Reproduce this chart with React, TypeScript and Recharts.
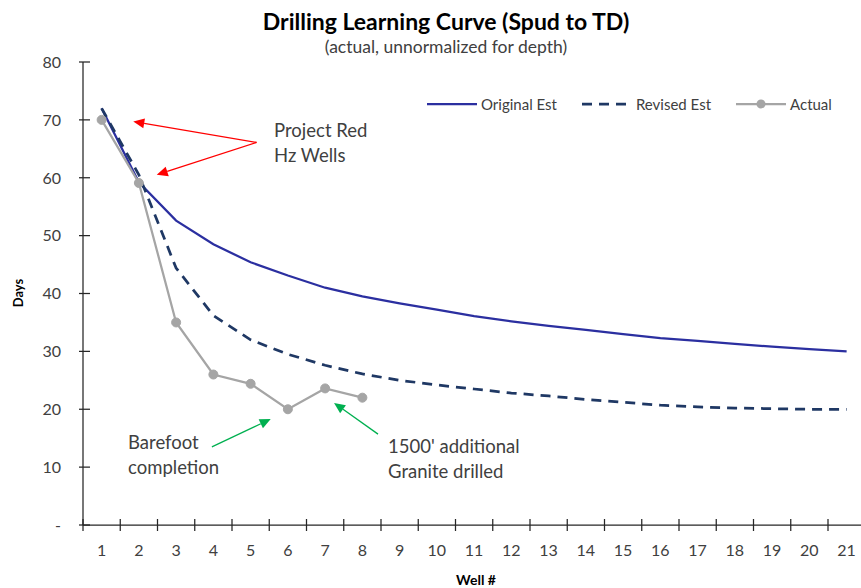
import React from "react";
import {
  Line,
  LineChart,
  XAxis,
  YAxis,
  ReferenceLine,
  ReferenceDot,
} from "recharts";

const wells = [1, 2, 3, 4, 5, 6, 7, 8, 9, 10, 11, 12, 13, 14, 15, 16, 17, 18, 19, 20, 21];
const originalEst = [72, 59.2, 52.6, 48.5, 45.4, 43.1, 41.0, 39.5, 38.3, 37.2, 36.1, 35.2, 34.4, 33.7, 33.0, 32.3, 31.8, 31.3, 30.8, 30.4, 30.0];
const revisedEst = [72, 60.5, 44.4, 36.2, 32.0, 29.5, 27.6, 26.1, 25.0, 24.2, 23.5, 22.8, 22.3, 21.7, 21.2, 20.7, 20.4, 20.2, 20.1, 20.0, 20.0];
const actual = [70, 59.1, 35, 26, 24.4, 20, 23.6, 22];
const yTicks = [0, 10, 20, 30, 40, 50, 60, 70, 80];

// annotation arrows (data coords) and their notes
const arrows = [
  {from: {x: 5.16, y: 66.1}, to: {x: 1.85, y: 69.7}, color: "#FF0000"},
  {from: {x: 5.16, y: 66.1}, to: {x: 2.48, y: 60.5}, color: "#FF0000"},
  {from: {x: 3.96, y: 13.5}, to: {x: 5.54, y: 18.3}, color: "#00B050"},
  {from: {x: 8.42, y: 15.7}, to: {x: 7.24, y: 21.1}, color: "#00B050"},
];
const notes = [
  {x: 5.63, y: 67.0, lines: ["Project Red", "Hz Wells"]},
  {x: 1.71, y: 13.1, lines: ["Barefoot", "completion"]},
  {x: 8.69, y: 12.5, lines: ["1500' additional", "Granite drilled"]},
];

const data = wells.map((w, i) => ({
  well: w,
  original: originalEst[i],
  revised: revisedEst[i],
  actual: actual[i] ?? null,
}));

const xTicks = [...wells.flatMap((w) => [w - 0.5, w]), wells[wells.length - 1] + 0.5];

const FONT = "Lato, 'Noto Sans', sans-serif";
const TEXT = "#404040";
const AXIS = "#262626";

function XTick(props: any) {
  const {x, y, payload} = props;
  if (Number.isInteger(payload.value)) {
    return (
      <text x={x} y={y + 31} textAnchor="middle" fontSize={16} fill={TEXT} fontFamily={FONT}>
        {payload.value}
      </text>
    );
  }
  return <line x1={x} x2={x} y1={y - 6} y2={y + 6} stroke={AXIS} strokeWidth={1.25} />;
}

function YTick(props: any) {
  const {x, y, payload} = props;
  return (
    <g>
      <line x1={x - 4} x2={x + 7} y1={y} y2={y} stroke={AXIS} strokeWidth={1.25} />
      <text x={x - 22} y={y} dy="0.36em" textAnchor="end" fontSize={16} fill={TEXT} fontFamily={FONT}>
        {payload.value === 0 ? "-" : payload.value}
      </text>
    </g>
  );
}

function arrowShape(color: string) {
  return (props: any) => {
    const {x1, y1, x2, y2} = props;
    const ang = Math.atan2(y2 - y1, x2 - x1);
    const len = 11;
    const half = 5;
    const bx = x2 - len * Math.cos(ang);
    const by = y2 - len * Math.sin(ang);
    const px = -Math.sin(ang) * half;
    const py = Math.cos(ang) * half;
    return (
      <g>
        <line x1={x1} y1={y1} x2={bx} y2={by} stroke={color} strokeWidth={1.3} />
        <polygon points={`${x2},${y2} ${bx + px},${by + py} ${bx - px},${by - py}`} fill={color} />
      </g>
    );
  };
}

function noteShape(lines: string[]) {
  return (props: any) => (
    <text x={props.cx} y={props.cy} fontSize={18.5} fill={TEXT} fontFamily={FONT}>
      {lines.map((l, i) => (
        <tspan key={i} x={props.cx} dy={i === 0 ? 0 : 25}>
          {l}
        </tspan>
      ))}
    </text>
  );
}

function ChartLegend() {
  const item = (sample: React.ReactNode, label: string, gap: number) => (
    <div style={{display: "flex", alignItems: "center", marginRight: gap}}>
      <svg width={51} height={12}>{sample}</svg>
      <span style={{marginLeft: 3, fontSize: 15, color: TEXT, fontFamily: FONT}}>{label}</span>
    </div>
  );
  return (
    <div style={{position: "absolute", top: 95, left: 427, display: "flex", alignItems: "center"}}>
      {item(<line x1={0} x2={50} y1={6} y2={6} stroke="#2B2FA0" strokeWidth={2.25} />, "Original Est", 25)}
      {item(
        <line x1={0} x2={50} y1={6} y2={6} stroke="#1F3864" strokeWidth={2.75} strokeDasharray="10 7" />,
        "Revised Est",
        25,
      )}
      {item(
        <g>
          <line x1={0} x2={50} y1={6} y2={6} stroke="#A5A5A5" strokeWidth={2.25} />
          <circle cx={25} cy={6} r={4.5} fill="#A5A5A5" />
        </g>,
        "Actual",
        0,
      )}
    </div>
  );
}

export default function App() {
  return (
    <div
      style={{
        position: "relative",
        width: 861,
        height: 588,
        overflow: "hidden",
        background: "#fff",
        fontFamily: FONT,
      }}>
      <style>{"body{margin:0}"}</style>
      <div
        style={{
          position: "absolute",
          top: 7,
          left: 0,
          width: 892,
          textAlign: "center",
          fontSize: 23,
          fontWeight: 700,
          color: "#000",
          lineHeight: "28px",
        }}>
        Drilling Learning Curve (Spud to TD)
      </div>
      <div
        style={{
          position: "absolute",
          top: 36,
          left: 0,
          width: 892,
          textAlign: "center",
          fontSize: 17.5,
          color: TEXT,
          lineHeight: "22px",
        }}>
        (actual, unnormalized for depth)
      </div>
      <div
        style={{
          position: "absolute",
          left: 18,
          top: 293,
          transform: "translate(-50%, -50%) rotate(-90deg)",
          fontSize: 13,
          fontWeight: 700,
          color: "#000",
        }}>
        Days
      </div>
      <div
        style={{
          position: "absolute",
          left: 476,
          top: 579,
          transform: "translate(-50%, -50%)",
          fontSize: 14,
          fontWeight: 700,
          color: "#000",
        }}>
        Well #
      </div>
      <ChartLegend />
      <LineChart
        width={870}
        height={588}
        data={data}
        margin={{top: 62, right: 4.75, bottom: 0, left: 0}}>
        <XAxis
          dataKey="well"
          type="number"
          domain={[0.5, 21.5]}
          ticks={xTicks}
          interval={0}
          tickSize={0}
          tickMargin={0}
          tickLine={false}
          height={63}
          axisLine={{stroke: AXIS, strokeWidth: 1.25}}
          tick={XTick}
        />
        <YAxis
          type="number"
          domain={[0, 80]}
          ticks={yTicks}
          interval={0}
          tickSize={0}
          tickMargin={0}
          tickLine={false}
          width={83}
          axisLine={{stroke: AXIS, strokeWidth: 1.25}}
          tick={YTick}
        />
        <Line
          type="linear"
          dataKey="original"
          name="Original Est"
          stroke="#2B2FA0"
          strokeWidth={2.25}
          dot={false}
          isAnimationActive={false}
        />
        <Line
          type="linear"
          dataKey="revised"
          name="Revised Est"
          stroke="#1F3864"
          strokeWidth={2.75}
          strokeDasharray="10 7"
          dot={false}
          isAnimationActive={false}
        />
        <Line
          type="linear"
          dataKey="actual"
          name="Actual"
          stroke="#A5A5A5"
          strokeWidth={2.25}
          dot={{r: 4.5, fill: "#A5A5A5", stroke: "#A5A5A5", strokeWidth: 1}}
          connectNulls={false}
          isAnimationActive={false}
        />
        {arrows.map((a, i) => (
          <ReferenceLine
            key={`a${i}`}
            segment={[a.from, a.to]}
            shape={arrowShape(a.color)}
            ifOverflow="visible"
          />
        ))}
        {notes.map((n, i) => (
          <ReferenceDot
            key={`n${i}`}
            x={n.x}
            y={n.y}
            r={0}
            shape={noteShape(n.lines)}
            ifOverflow="visible"
          />
        ))}
      </LineChart>
    </div>
  );
}
